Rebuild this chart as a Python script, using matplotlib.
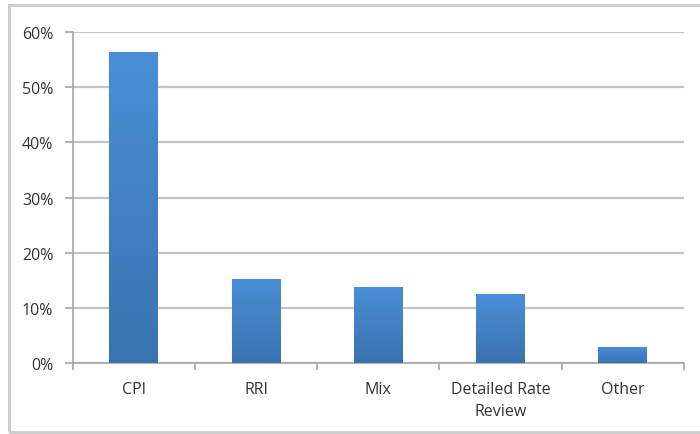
import matplotlib
matplotlib.use('Agg')
from matplotlib import pyplot as plt
from matplotlib.patches import Rectangle
import numpy as np

categories = ['CPI', 'RRI', 'Mix', 'Detailed Rate\nReview', 'Other']
shares = [56.4, 15.2, 13.8, 12.5, 2.9]   # percent
yticks = [0, 10, 20, 30, 40, 50, 60]

plt.rcParams['font.family'] = ['Open Sans', 'DejaVu Sans']

fig = plt.figure(figsize=(7, 4.35), dpi=100)
ax = fig.add_axes([0.104, 0.163, 0.873, 0.761])

# outer chart frame, open on the right
fig.patches.append(Rectangle((9 / 700, 2 / 435), 1.0, 427 / 435, transform=fig.transFigure,
                             fill=False, edgecolor='#cfcfcf', lw=2.2, zorder=0))

x = np.arange(len(categories))
bars = ax.bar(x, shares, width=0.4, color='#4086cc', zorder=3)

# vertical gradient inside each bar
grad = np.linspace(0, 1, 256).reshape(-1, 1)
cmap = matplotlib.colors.LinearSegmentedColormap.from_list('bar', ['#3a72b0', '#4a8fd6'])
for b in bars:
    x0, w, h = b.get_x(), b.get_width(), b.get_height()
    im = ax.imshow(grad, cmap=cmap, aspect='auto', origin='lower',
                   extent=(x0, x0 + w, 0, h), zorder=4)
    im.set_clip_path(b)

ax.set_xlim(-0.5, len(categories) - 0.5)
ax.set_ylim(0, 60)
ax.set_yticks(yticks)
ax.set_yticklabels(['%d%%' % v for v in yticks])
ax.yaxis.grid(True, color='#c4c4c4', lw=1.6, zorder=0)

ax.set_xticks(x)
ax.set_xticklabels(categories, linespacing=1.5)
ax.set_xticks(np.arange(len(categories) + 1) - 0.5, minor=True)
ax.tick_params(axis='x', which='major', length=0, pad=13)
ax.tick_params(axis='x', which='minor', length=5, color='#a6a6a6', width=1.2)
ax.tick_params(axis='y', length=6, color='#a6a6a6', width=1.2, pad=8)
ax.tick_params(labelsize=11.5, labelcolor='#333333')

for s in ['top', 'right']:
    ax.spines[s].set_visible(False)
for s in ['left', 'bottom']:
    ax.spines[s].set_color('#a6a6a6')
    ax.spines[s].set_linewidth(1.2)
ax.set_axisbelow(True)

fig.savefig('out.png', dpi=100)
